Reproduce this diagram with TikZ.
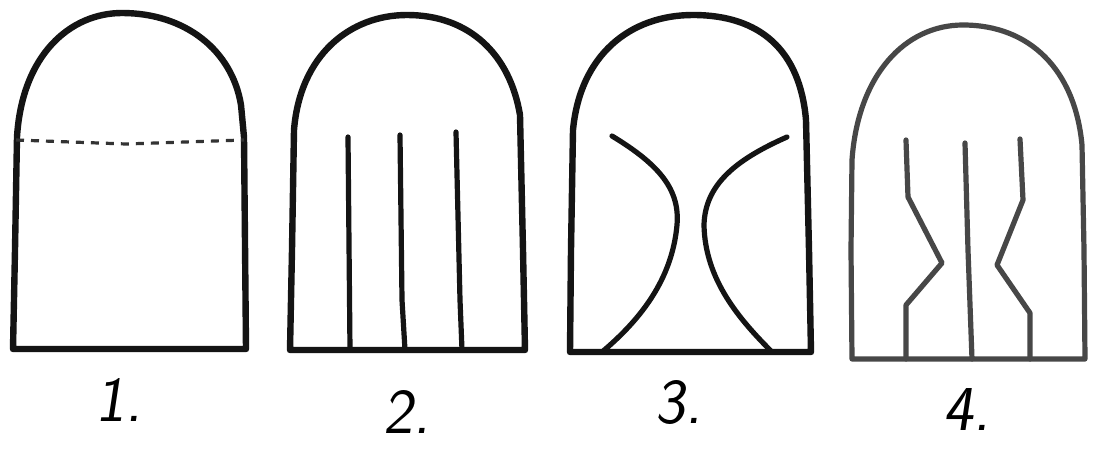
\documentclass[tikz,border=0pt]{standalone}
\begin{document}
\begin{tikzpicture}[x=1pt,y=-1pt,
  outline/.style={line width=6.4pt,line join=round,line cap=round,black!92},
  inner/.style={line width=5.2pt,line join=round,line cap=round,black!92},
  pencil/.style={line width=5.2pt,line join=round,line cap=round,black!72},
  lbl/.style={font=\fontsize{64}{64}\selectfont\sffamily,inner sep=0pt}]
\useasboundingbox[fill=white] (0,0) rectangle (1096,455);

% ---- 1 ----
\draw[outline] (13,349) -- (15,250) -- (17,137)
  .. controls (22,55) and (70,13) .. (122,13)
  .. controls (185,13) and (232,50) .. (241,105)
  -- (244,137) -- (246,349) -- cycle;
\draw[line width=3.2pt,dashed,dash pattern=on 8pt off 7pt,black!80] (16,140) -- (126,144) -- (244,140);
\node[lbl,xslant=0.15] (l1) at (122,400) {1.};

% ---- 2 ----
\draw[outline] (290,350) -- (292,250) -- (294,130)
  .. controls (300,55) and (350,15) .. (407,15)
  .. controls (470,15) and (510,55) .. (520,115)
  -- (523,250) -- (525,350) -- cycle;
\draw[inner] (348,137) -- (350,350);
\draw[inner] (400,135) -- (402,300) -- (405,350);
\draw[inner] (456,132) -- (460,300) -- (462,350);
\node[lbl,xslant=0.15] (l2) at (410,412) {2.};

% ---- 3 ----
\draw[outline] (570,352) -- (571,250) -- (573,130)
  .. controls (580,55) and (630,15) .. (693,15)
  .. controls (760,15) and (800,50) .. (806,120)
  -- (809,250) -- (811,352) -- cycle;
\draw[inner] (612,136) .. controls (660,165) and (680,190) .. (677,225)
  .. controls (672,280) and (640,320) .. (602,352);
\draw[inner] (787,137) .. controls (735,160) and (705,185) .. (704,225)
  .. controls (705,280) and (740,320) .. (772,352);
\node[lbl,xslant=0.15] (l3) at (682,403) {3.};

% ---- 4 ----
\draw[pencil] (852,359) -- (851,250) -- (852,160)
  .. controls (858,75) and (905,25) .. (963,25)
  .. controls (1030,25) and (1075,70) .. (1082,145)
  -- (1084,250) -- (1085,359) -- cycle;
\draw[pencil] (906,140) -- (908,197) -- (942,263) -- (906,305) -- (906,359);
\draw[pencil] (965,143) -- (968,250) -- (972,359);
\draw[pencil] (1020,139) -- (1023,200) -- (997,265) -- (1030,313) -- (1030,359);
\node[lbl,xslant=0.15] (l4) at (970,410) {4.};
\end{tikzpicture}
\end{document}
